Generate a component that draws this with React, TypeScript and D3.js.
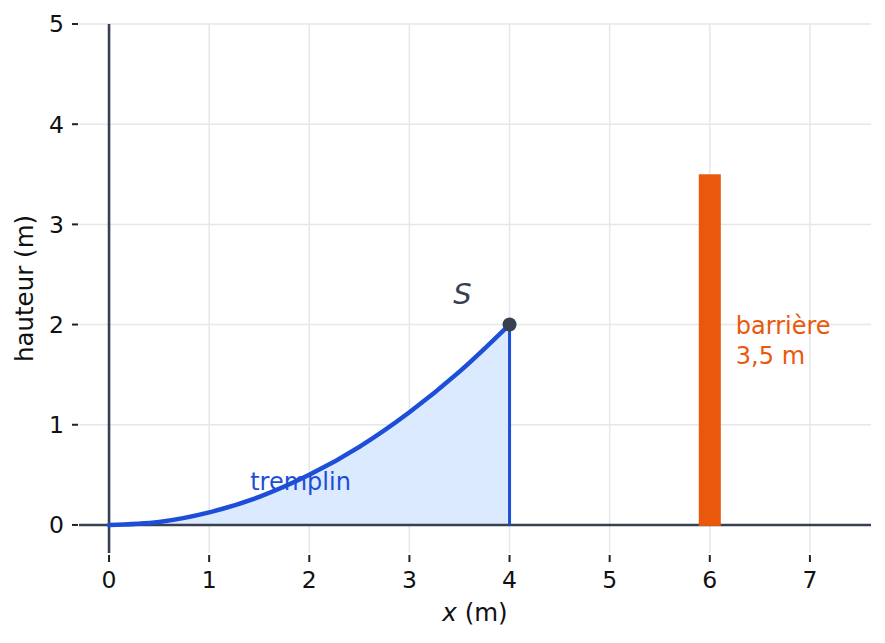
import React, { useEffect, useRef } from 'react';
import * as d3 from 'd3';

// tremplin profile (x in m, hauteur in m)
const tremplinX = [0, 0.5, 1, 1.5, 2, 2.5, 3, 3.5, 4];
const tremplinY = [0, 0.03, 0.125, 0.28, 0.5, 0.78, 1.125, 1.53, 2];

// summit S
const sommet = { x: 4, y: 2 };

// barrier
const barriereX = 6;
const barriereLargeur = 0.22;
const barriereHauteur = 3.5;
const barriereLabels = ['barrière', '3,5 m'];

const xTicks = [0, 1, 2, 3, 4, 5, 6, 7];
const yTicks = [0, 1, 2, 3, 4, 5];

const App: React.FC = () => {
  const chartRef = useRef<SVGSVGElement | null>(null);

  useEffect(() => {
    const width = 885;
    const height = 643;
    const margin = { top: 24, right: 14, bottom: 90, left: 79 };

    const svg = d3.select(chartRef.current);
    svg.selectAll('*').remove();
    svg.attr('width', width).attr('height', height);

    const x = d3.scaleLinear().domain([-0.3, 7.61]).range([margin.left, width - margin.right]);
    const y = d3.scaleLinear().domain([-0.28, 5]).range([height - margin.bottom, margin.top]);

    const font = '"DejaVu Sans", sans-serif';
    const axisColor = '#374151';
    const blue = '#1d4ed8';
    const orange = '#ea580c';

    const [x0, x1] = x.range();
    const [y0, y1] = y.range();

    // grid
    const grid = svg.append('g');
    grid.selectAll('line.vx')
      .data(xTicks)
      .enter().append('line')
      .attr('x1', d => x(d)).attr('x2', d => x(d))
      .attr('y1', y0).attr('y2', y1)
      .attr('stroke', '#e5e7eb').attr('stroke-width', 1.5);
    grid.selectAll('line.hy')
      .data(yTicks)
      .enter().append('line')
      .attr('y1', d => y(d)).attr('y2', d => y(d))
      .attr('x1', x0).attr('x2', x1)
      .attr('stroke', '#e5e7eb').attr('stroke-width', 1.5);

    const pts = tremplinX.map((v, i) => ({ x: v, y: tremplinY[i] }));

    // filled area under the tremplin
    const area = d3.area<{ x: number; y: number }>()
      .x(d => x(d.x))
      .y0(y(0))
      .y1(d => y(d.y))
      .curve(d3.curveMonotoneX);
    svg.append('path')
      .attr('d', area(pts)!)
      .attr('fill', '#dbeafe');

    // axis lines through the origin
    svg.append('line')
      .attr('x1', x0).attr('x2', x1)
      .attr('y1', y(0)).attr('y2', y(0))
      .attr('stroke', axisColor).attr('stroke-width', 2.6);
    svg.append('line')
      .attr('x1', x(0)).attr('x2', x(0))
      .attr('y1', y0).attr('y2', y1)
      .attr('stroke', axisColor).attr('stroke-width', 2.6);

    // tremplin curve
    const line = d3.line<{ x: number; y: number }>()
      .x(d => x(d.x))
      .y(d => y(d.y))
      .curve(d3.curveMonotoneX);
    svg.append('path')
      .attr('d', line(pts)!)
      .attr('fill', 'none')
      .attr('stroke', blue)
      .attr('stroke-width', 4.5)
      .attr('stroke-linecap', 'round');

    // vertical edge at the summit
    svg.append('line')
      .attr('x1', x(sommet.x)).attr('x2', x(sommet.x))
      .attr('y1', y(0)).attr('y2', y(sommet.y))
      .attr('stroke', blue).attr('stroke-width', 3);

    // barrier
    svg.append('rect')
      .attr('x', x(barriereX - barriereLargeur / 2))
      .attr('width', x(barriereX + barriereLargeur / 2) - x(barriereX - barriereLargeur / 2))
      .attr('y', y(barriereHauteur))
      .attr('height', y(0) - y(barriereHauteur) + 1)
      .attr('fill', orange);

    // summit point
    svg.append('circle')
      .attr('cx', x(sommet.x)).attr('cy', y(sommet.y))
      .attr('r', 7)
      .attr('fill', axisColor);

    // ticks
    const ticks = svg.append('g').attr('font-family', font).attr('font-size', 23.5).attr('fill', '#111');
    xTicks.forEach(t => {
      ticks.append('line')
        .attr('x1', x(t)).attr('x2', x(t))
        .attr('y1', y0 + 2).attr('y2', y0 + 9)
        .attr('stroke', '#222').attr('stroke-width', 2);
      ticks.append('text')
        .attr('x', x(t)).attr('y', 588)
        .attr('text-anchor', 'middle')
        .text(t);
    });
    yTicks.forEach(t => {
      ticks.append('line')
        .attr('x1', x0 - 7).attr('x2', x0 - 1)
        .attr('y1', y(t)).attr('y2', y(t))
        .attr('stroke', '#222').attr('stroke-width', 2);
      ticks.append('text')
        .attr('x', 64).attr('y', y(t))
        .attr('dy', '0.36em')
        .attr('text-anchor', 'end')
        .text(t);
    });

    // axis labels
    const xl = svg.append('text')
      .attr('x', (x0 + x1) / 2).attr('y', 621)
      .attr('text-anchor', 'middle')
      .attr('font-family', font).attr('font-size', 24.5).attr('fill', '#111');
    xl.append('tspan').attr('font-style', 'italic').text('x');
    xl.append('tspan').text(' (m)');

    svg.append('text')
      .attr('transform', `translate(33,${(y0 + y1) / 2}) rotate(-90)`)
      .attr('text-anchor', 'middle')
      .attr('font-family', font).attr('font-size', 24.5).attr('fill', '#111')
      .text('hauteur (m)');

    // annotations
    svg.append('text')
      .attr('x', x(sommet.x) - 47).attr('y', 304)
      .attr('text-anchor', 'middle')
      .attr('font-family', font).attr('font-size', 29).attr('font-style', 'italic')
      .attr('fill', axisColor)
      .text('S');

    svg.append('text')
      .attr('x', x(1.41)).attr('y', 490)
      .attr('font-family', font).attr('font-size', 24)
      .attr('fill', blue)
      .text('tremplin');

    svg.selectAll('text.barriere')
      .data(barriereLabels)
      .enter().append('text')
      .attr('x', x(6.26))
      .attr('y', (_, i) => 334 + i * 30)
      .attr('font-family', font).attr('font-size', 24)
      .attr('fill', orange)
      .text(d => d);
  }, []);

  return (
    <svg ref={chartRef} style={{ position: 'absolute', left: 0, top: 0, background: '#fff' }}></svg>
  );
};

export default App;
